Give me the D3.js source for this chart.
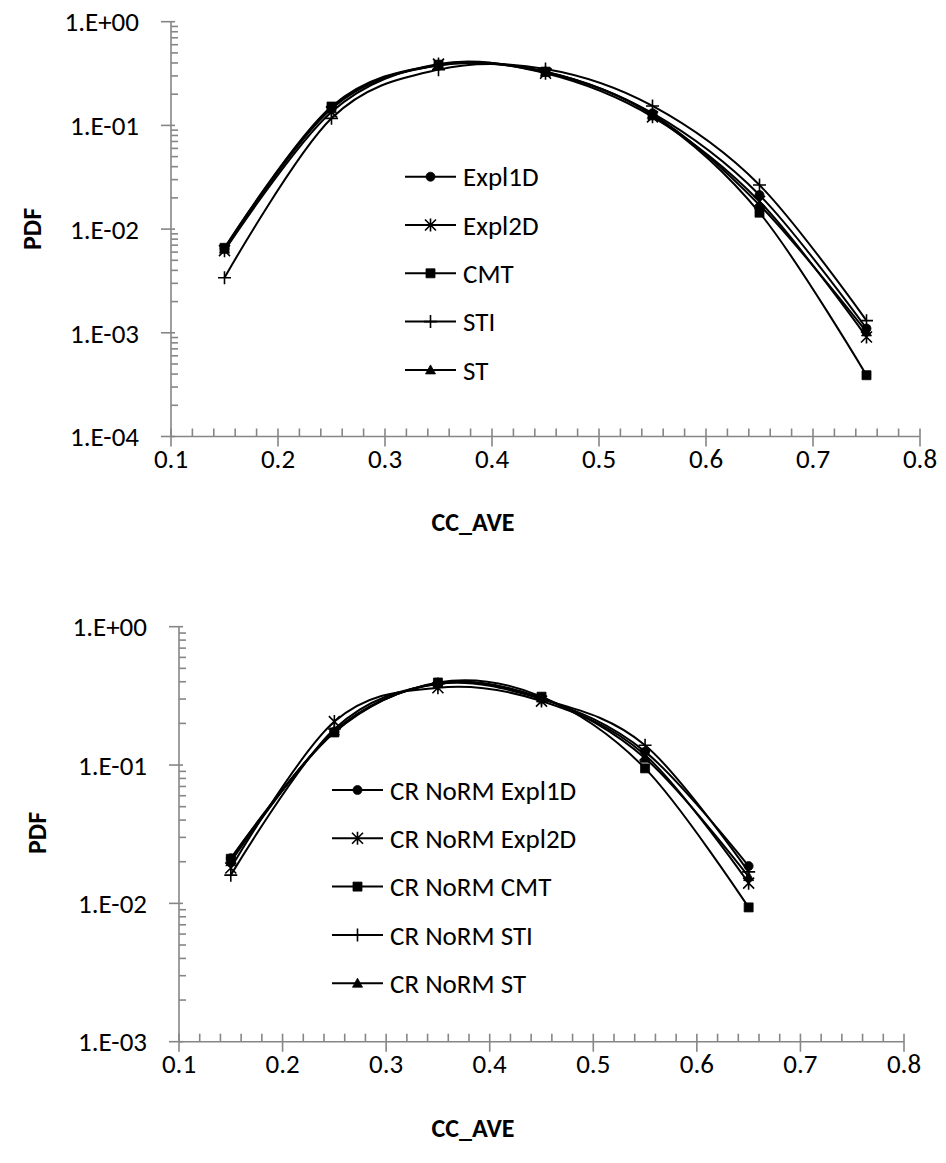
<!DOCTYPE html>
<html>
<head>
<meta charset="utf-8">
<script src="https://cdn.jsdelivr.net/npm/d3@7"></script>
<style>
  html, body { margin: 0; padding: 0; background: #fff; }
  svg text { font-family: Calibri, Carlito, Lato, "Open Sans", sans-serif; fill: #000; }
</style>
</head>
<body>
<svg id="chart" width="946" height="1163"></svg>
<script>
// ---- data: upper panel (CC_AVE distribution) ----
const xTop = [0.15, 0.25, 0.35, 0.45, 0.55, 0.65, 0.75];
const expl1dTop = [0.0065, 0.150, 0.380, 0.330, 0.131, 0.0213, 0.00110];
const expl2dTop = [0.0062, 0.135, 0.390, 0.318, 0.121, 0.0185, 0.00091];
const cmtTop    = [0.0066, 0.152, 0.385, 0.330, 0.125, 0.0144, 0.00039];
const stiTop    = [0.0034, 0.117, 0.345, 0.350, 0.154, 0.0266, 0.00131];
const stTop     = [0.0064, 0.145, 0.380, 0.325, 0.128, 0.0171, 0.00102];
const namesTop  = ["Expl1D", "Expl2D", "CMT", "STI", "ST"];

// ---- data: lower panel (CR NoRM) ----
const xBot = [0.15, 0.25, 0.35, 0.45, 0.55, 0.65];
const expl1dBot = [0.0212, 0.174, 0.390, 0.302, 0.125, 0.0186];
const expl2dBot = [0.0180, 0.206, 0.362, 0.290, 0.118, 0.0140];
const cmtBot    = [0.0210, 0.172, 0.395, 0.312, 0.0946, 0.00935];
const stiBot    = [0.0160, 0.182, 0.385, 0.300, 0.139, 0.0169];
const stBot     = [0.0200, 0.176, 0.390, 0.305, 0.112, 0.0156];
const namesBot  = ["CR NoRM Expl1D", "CR NoRM Expl2D", "CR NoRM CMT", "CR NoRM STI", "CR NoRM ST"];

const markerTypes = ["circle", "star", "square", "plus", "triangle"];
const yTickLabels = ["1.E+00", "1.E-01", "1.E-02", "1.E-03", "1.E-04"];
const xTickValues = [0.1, 0.2, 0.3, 0.4, 0.5, 0.6, 0.7, 0.8];

const svg = d3.select("#chart");
svg.append("rect").attr("width", 946).attr("height", 1163).attr("fill", "#fff");

const AXIS = "#868686";
const FS = 27;

// marker shapes centred on (0,0)
function markerPath(type) {
  const p = d3.path();
  switch (type) {
    case "circle":   p.arc(0, 0, 4.5, 0, 2 * Math.PI); break;
    case "square":   p.rect(-4.5, -4.5, 9, 9); break;
    case "triangle": p.moveTo(0, -5); p.lineTo(5, 4); p.lineTo(-5, 4); p.closePath(); break;
    case "plus":     p.moveTo(-6.5, 0); p.lineTo(6.5, 0); p.moveTo(0, -6.5); p.lineTo(0, 6.5); break;
    case "star":     p.moveTo(-5.5, -5.5); p.lineTo(5.5, 5.5); p.moveTo(5.5, -5.5); p.lineTo(-5.5, 5.5);
                     p.moveTo(0, -6.5); p.lineTo(0, 6.5); break;
  }
  return p.toString();
}
function drawMarker(g, type, x, y) {
  const stroked = (type === "plus" || type === "star");
  g.append("path")
    .attr("d", markerPath(type))
    .attr("transform", `translate(${x},${y})`)
    .attr("fill", stroked ? "none" : "#000")
    .attr("stroke", "#000")
    .attr("stroke-width", stroked ? 1.6 : 0.8);
}

function panel(cfg) {
  const g = svg.append("g");
  const x = d3.scaleLinear().domain([0.1, 0.8]).range([cfg.x0, cfg.x1]);
  const y = d3.scaleLog().domain([cfg.yMin, 1]).range([cfg.yBottom, cfg.yTop]);

  // y axis: line, crossing major ticks, inside minor ticks
  g.append("line").attr("x1", cfg.x0).attr("x2", cfg.x0)
    .attr("y1", cfg.yTop).attr("y2", cfg.yBottom)
    .attr("stroke", AXIS).attr("stroke-width", 1.6);
  const decades = d3.range(0, Math.round(-Math.log10(cfg.yMin)) + 1).map(d => Math.pow(10, -d));
  decades.forEach((v, i) => {
    g.append("line").attr("x1", cfg.x0 - 10).attr("x2", cfg.x0 + 4)
      .attr("y1", y(v)).attr("y2", y(v)).attr("stroke", AXIS).attr("stroke-width", 1.6);
    g.append("text").attr("x", cfg.x0 - 32).attr("y", y(v)).attr("dy", "0.36em")
      .attr("text-anchor", "end").attr("font-size", FS).text(yTickLabels[i]);
    if (v > cfg.yMin) {
      for (let m = 2; m <= 9; m++) {
        const mv = v / 10 * m;
        g.append("line").attr("x1", cfg.x0).attr("x2", cfg.x0 + 7)
          .attr("y1", y(mv)).attr("y2", y(mv)).attr("stroke", AXIS).attr("stroke-width", 1.6);
      }
    }
  });

  // x axis
  g.append("line").attr("x1", cfg.x0).attr("x2", cfg.x1)
    .attr("y1", cfg.yBottom).attr("y2", cfg.yBottom)
    .attr("stroke", AXIS).attr("stroke-width", 1.6);
  xTickValues.forEach((v, i) => {
    g.append("line").attr("x1", x(v)).attr("x2", x(v))
      .attr("y1", cfg.yBottom - 8).attr("y2", cfg.yBottom + 10)
      .attr("stroke", AXIS).attr("stroke-width", 1.6);
    g.append("text").attr("x", x(v)).attr("y", cfg.yBottom + 31)
      .attr("text-anchor", "middle").attr("font-size", FS).text(d3.format(".1f")(v));
    if (i < xTickValues.length - 1) {
      for (let k = 1; k <= 4; k++) {
        const mv = v + k * 0.02;
        g.append("line").attr("x1", x(mv)).attr("x2", x(mv))
          .attr("y1", cfg.yBottom - 8).attr("y2", cfg.yBottom)
          .attr("stroke", AXIS).attr("stroke-width", 1.6);
      }
    }
  });

  // axis titles
  g.append("text").attr("x", cfg.titleX).attr("y", cfg.titleY)
    .attr("text-anchor", "middle").attr("font-size", 26).attr("font-weight", "bold").text("CC_AVE");
  g.append("text").attr("transform", `translate(${cfg.pdfX},${cfg.pdfY}) rotate(-90)`)
    .attr("text-anchor", "middle").attr("font-size", 26).attr("font-weight", "bold").text("PDF");

  // smoothed series lines with markers
  const line = d3.line().x(d => x(d[0])).y(d => y(d[1])).curve(d3.curveCardinal.tension(0));
  cfg.series.forEach((vals) => {
    const pts = cfg.xs.map((xv, j) => [xv, vals[j]]);
    g.append("path").attr("d", line(pts)).attr("fill", "none")
      .attr("stroke", "#000").attr("stroke-width", 2);
  });
  cfg.series.forEach((vals, si) => {
    cfg.xs.forEach((xv, j) => drawMarker(g, markerTypes[si], x(xv), y(vals[j])));
  });

  // legend
  cfg.names.forEach((name, i) => {
    const ly = cfg.legY + i * cfg.legStep;
    g.append("line").attr("x1", cfg.legX).attr("x2", cfg.legX + 51)
      .attr("y1", ly).attr("y2", ly).attr("stroke", "#000").attr("stroke-width", 2);
    drawMarker(g, markerTypes[i], cfg.legX + 25.5, ly);
    g.append("text").attr("x", cfg.legX + 58).attr("y", ly).attr("dy", "0.36em")
      .attr("font-size", FS).text(name);
  });
}

panel({
  x0: 171, x1: 920, yTop: 21.7, yBottom: 436.5, yMin: 1e-4,
  xs: xTop, series: [expl1dTop, expl2dTop, cmtTop, stiTop, stTop], names: namesTop,
  legX: 405, legY: 176.7, legStep: 48.3,
  titleX: 473, titleY: 531, pdfX: 41, pdfY: 229
});

panel({
  x0: 179, x1: 904, yTop: 626.7, yBottom: 1041.7, yMin: 1e-3,
  xs: xBot, series: [expl1dBot, expl2dBot, cmtBot, stiBot, stBot], names: namesBot,
  legX: 332, legY: 790, legStep: 48.3,
  titleX: 473, titleY: 1137, pdfX: 46, pdfY: 833
});
</script>
</body>
</html>
